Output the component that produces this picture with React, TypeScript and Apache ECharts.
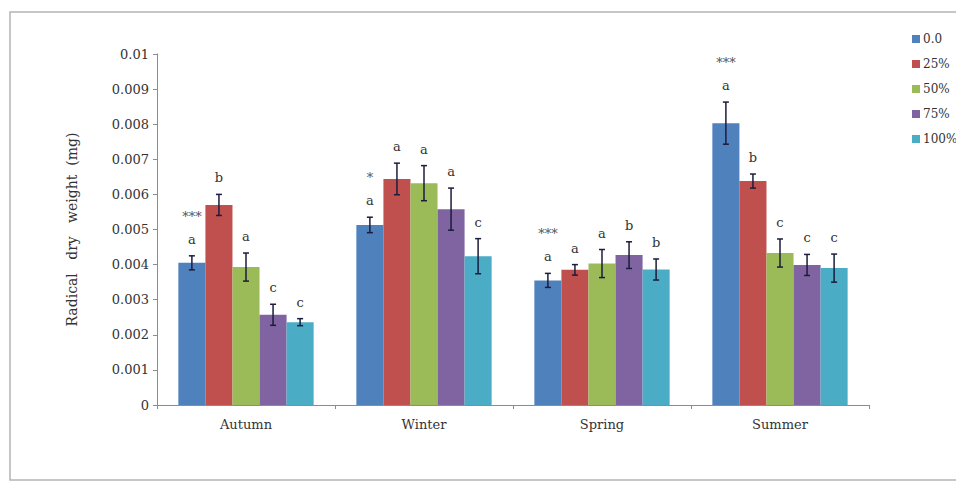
import React, { useEffect, useRef } from "react";
import * as echarts from "echarts";

// Seasons on the x axis, shading levels as the grouped series
const seasons = ["Autumn", "Winter", "Spring", "Summer"];
const levels = ["0.0", "25%", "50%", "75%", "100%"];

// Mean radical dry weight (mg) per level, one value per season
const dry0 = [0.00405, 0.00513, 0.00355, 0.00803];
const dry25 = [0.0057, 0.00644, 0.00385, 0.00638];
const dry50 = [0.00393, 0.00632, 0.00403, 0.00433];
const dry75 = [0.00257, 0.00558, 0.00427, 0.00399];
const dry100 = [0.00236, 0.00424, 0.00386, 0.0039];

// Standard errors
const err0 = [0.0002, 0.00022, 0.0002, 0.0006];
const err25 = [0.0003, 0.00045, 0.00015, 0.0002];
const err50 = [0.0004, 0.0005, 0.0004, 0.0004];
const err75 = [0.0003, 0.0006, 0.00038, 0.0003];
const err100 = [0.0001, 0.0005, 0.0003, 0.0004];

// Mean-separation letters
const let0 = ["a", "a", "a", "a"];
const let25 = ["b", "a", "a", "b"];
const let50 = ["a", "a", "a", "c"];
const let75 = ["c", "a", "b", "c"];
const let100 = ["c", "c", "b", "c"];

// Significance marks between levels within each season
const significance = ["***", "*", "***", "***"];

const yTicks = ["0", "0.001", "0.002", "0.003", "0.004", "0.005", "0.006", "0.007", "0.008", "0.009", "0.01"];

const colors = ["#4F81BD", "#C0504D", "#9BBB59", "#8064A2", "#4BACC6"];
const values = [dry0, dry25, dry50, dry75, dry100];
const errors = [err0, err25, err50, err75, err100];
const letters = [let0, let25, let50, let75, let100];

const SERIF = "DejaVu Serif";
const CATEGORY_GAP = 0.24;

export default function App() {
  const ref = useRef<HTMLDivElement>(null);

  useEffect(() => {
    if (!ref.current) return;
    const chart = echarts.init(ref.current, undefined, { renderer: "svg" });

    const errData: any[] = [];
    levels.forEach((_, li) => {
      seasons.forEach((_, ci) => {
        errData.push([ci, li, values[li][ci], errors[li][ci]]);
      });
    });

    const barSeries = levels.map((name, li) => ({
      name,
      type: "bar",
      data: values[li],
      barGap: "0%",
      barCategoryGap: CATEGORY_GAP * 100 + "%",
      itemStyle: { color: colors[li] },
      z: 2,
    }));

    const errorSeries = {
      type: "custom",
      name: "err",
      data: errData,
      z: 5,
      silent: true,
      itemStyle: { color: "#333333" },
      renderItem: (params: any, api: any) => {
        const ci = api.value(0);
        const li = api.value(1);
        const v = api.value(2);
        const e = api.value(3);
        const band = api.size([1, 0])[0];
        const barW = (band * (1 - CATEGORY_GAP)) / levels.length;
        const cx = api.coord([ci, 0])[0] + (li - (levels.length - 1) / 2) * barW;
        const yTop = api.coord([ci, v + e])[1];
        const yBot = api.coord([ci, v - e])[1];
        const cap = 3;
        const stroke = { stroke: "#1c1c3c", lineWidth: 1.5 };
        const children: any[] = [
          { type: "line", shape: { x1: cx, y1: yTop, x2: cx, y2: yBot }, style: stroke },
          { type: "line", shape: { x1: cx - cap, y1: yTop, x2: cx + cap, y2: yTop }, style: stroke },
          { type: "line", shape: { x1: cx - cap, y1: yBot, x2: cx + cap, y2: yBot }, style: stroke },
          {
            type: "text",
            style: {
              text: letters[li][ci],
              x: cx,
              y: yTop - 10,
              align: "center",
              verticalAlign: "bottom",
              fill: "#333333",
              font: "13px " + SERIF,
            },
          },
        ];
        if (li === 0) {
          children.push({
            type: "text",
            style: {
              text: significance[ci],
              x: cx,
              y: yTop - 33,
              align: "center",
              verticalAlign: "bottom",
              fill: "#555555",
              font: "13px " + SERIF,
            },
          });
        }
        return { type: "group", children };
      },
    };

    chart.setOption({
      animation: false,
      backgroundColor: "#ffffff",
      graphic: [
        {
          type: "rect",
          z: 0,
          shape: { x: 10, y: 12, width: 1000, height: 468 },
          style: { fill: "none", stroke: "#b4b4b4", lineWidth: 1.5 },
        },
      ],
      legend: {
        orient: "vertical",
        left: 907,
        top: 28,
        itemWidth: 8,
        itemHeight: 8,
        itemGap: 13,
        icon: "rect",
        data: levels,
        textStyle: { fontFamily: SERIF, fontSize: 12, color: "#333", padding: [0, 0, 0, -2] },
      },
      grid: { left: 157, right: 87, top: 54, bottom: 79 },
      xAxis: {
        type: "category",
        data: seasons,
        axisLine: { lineStyle: { color: "#8c8c8c" } },
        axisTick: { show: true, length: 4, lineStyle: { color: "#8c8c8c" } },
        axisLabel: { fontFamily: SERIF, fontSize: 13, color: "#333", margin: 13 },
      },
      yAxis: {
        type: "value",
        min: 0,
        max: 0.01,
        interval: 0.001,
        name: "Radical   dry   weight  (mg)",
        nameLocation: "middle",
        nameGap: 78,
        nameTextStyle: { fontFamily: SERIF, fontSize: 14, color: "#333" },
        axisLine: { show: true, lineStyle: { color: "#8c8c8c" } },
        axisTick: { show: true, length: 4, lineStyle: { color: "#8c8c8c" } },
        splitLine: { show: false },
        axisLabel: {
          fontFamily: SERIF,
          fontSize: 13,
          color: "#333",
          margin: 8,
          formatter: (v: number) => yTicks[Math.round(v / 0.001)] ?? String(v),
        },
      },
      series: [...barSeries, errorSeries],
    } as any);

    return () => chart.dispose();
  }, []);

  return (
    <div
      ref={ref}
      style={{ position: "absolute", left: 0, top: 0, width: 956, height: 484 }}
    />
  );
}
